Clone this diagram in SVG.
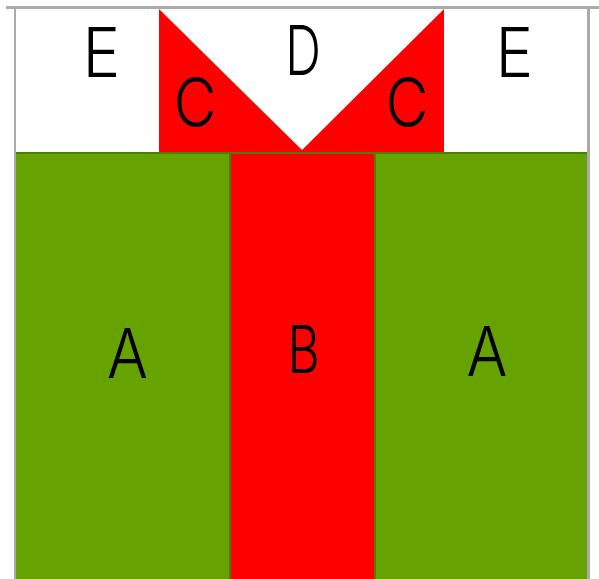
<svg xmlns="http://www.w3.org/2000/svg" width="599" height="579" viewBox="0 0 599 579">
<style>
.lbl{font-family:Inter,"Liberation Sans",Arial,sans-serif;font-weight:300;font-size:69px;fill:#000;text-anchor:middle}
.green{fill:#66a300}
.red{fill:#ff0000}
.edge{fill:#4e7d00}
.border{fill:#aaaaaa}
</style>
<rect width="599" height="579" fill="#ffffff"/>
<g id="top">
  <rect x="16" y="9" width="571" height="143" fill="#ffffff"/>
  <g id="C-left">
    <polygon class="red" points="159,9 302,150 302,152 159,152"/>
    <text class="lbl" transform="translate(195,127) scale(0.85,1)">C</text>
  </g>
  <g id="C-right">
    <polygon class="red" points="444,9 302,150 302,152 444,152"/>
    <text class="lbl" transform="translate(407,127) scale(0.85,1)">C</text>
  </g>
  <g id="D">
    <text class="lbl" transform="translate(303,75) scale(0.72,1)">D</text>
  </g>
  <g id="E-left">
    <text class="lbl" transform="translate(101.5,77) scale(0.92,1)">E</text>
  </g>
  <g id="E-right">
    <text class="lbl" transform="translate(514.5,77) scale(0.92,1)">E</text>
  </g>
</g>
<g id="A-left">
  <rect class="green" x="16" y="152" width="214" height="427"/>
  <text class="lbl" transform="translate(127.5,378) scale(0.88,1)">A</text>
</g>
<g id="B">
  <rect class="red" x="230" y="152" width="145" height="427"/>
  <text class="lbl" transform="translate(303.5,373) scale(0.72,0.96)">B</text>
</g>
<g id="A-right">
  <rect class="green" x="375" y="152" width="212" height="427"/>
  <text class="lbl" transform="translate(487,376) scale(0.88,1)">A</text>
</g>
<g id="edges">
  <rect class="edge" x="16" y="152" width="571" height="2"/>
  <rect class="edge" x="229" y="152" width="2" height="427"/>
  <rect class="edge" x="374" y="152" width="2" height="427"/>
  <rect class="border" x="6" y="6" width="593" height="3"/>
  <rect class="border" x="14" y="6" width="2" height="573"/>
  <rect class="border" x="587" y="6" width="3" height="573"/>
</g>
</svg>
